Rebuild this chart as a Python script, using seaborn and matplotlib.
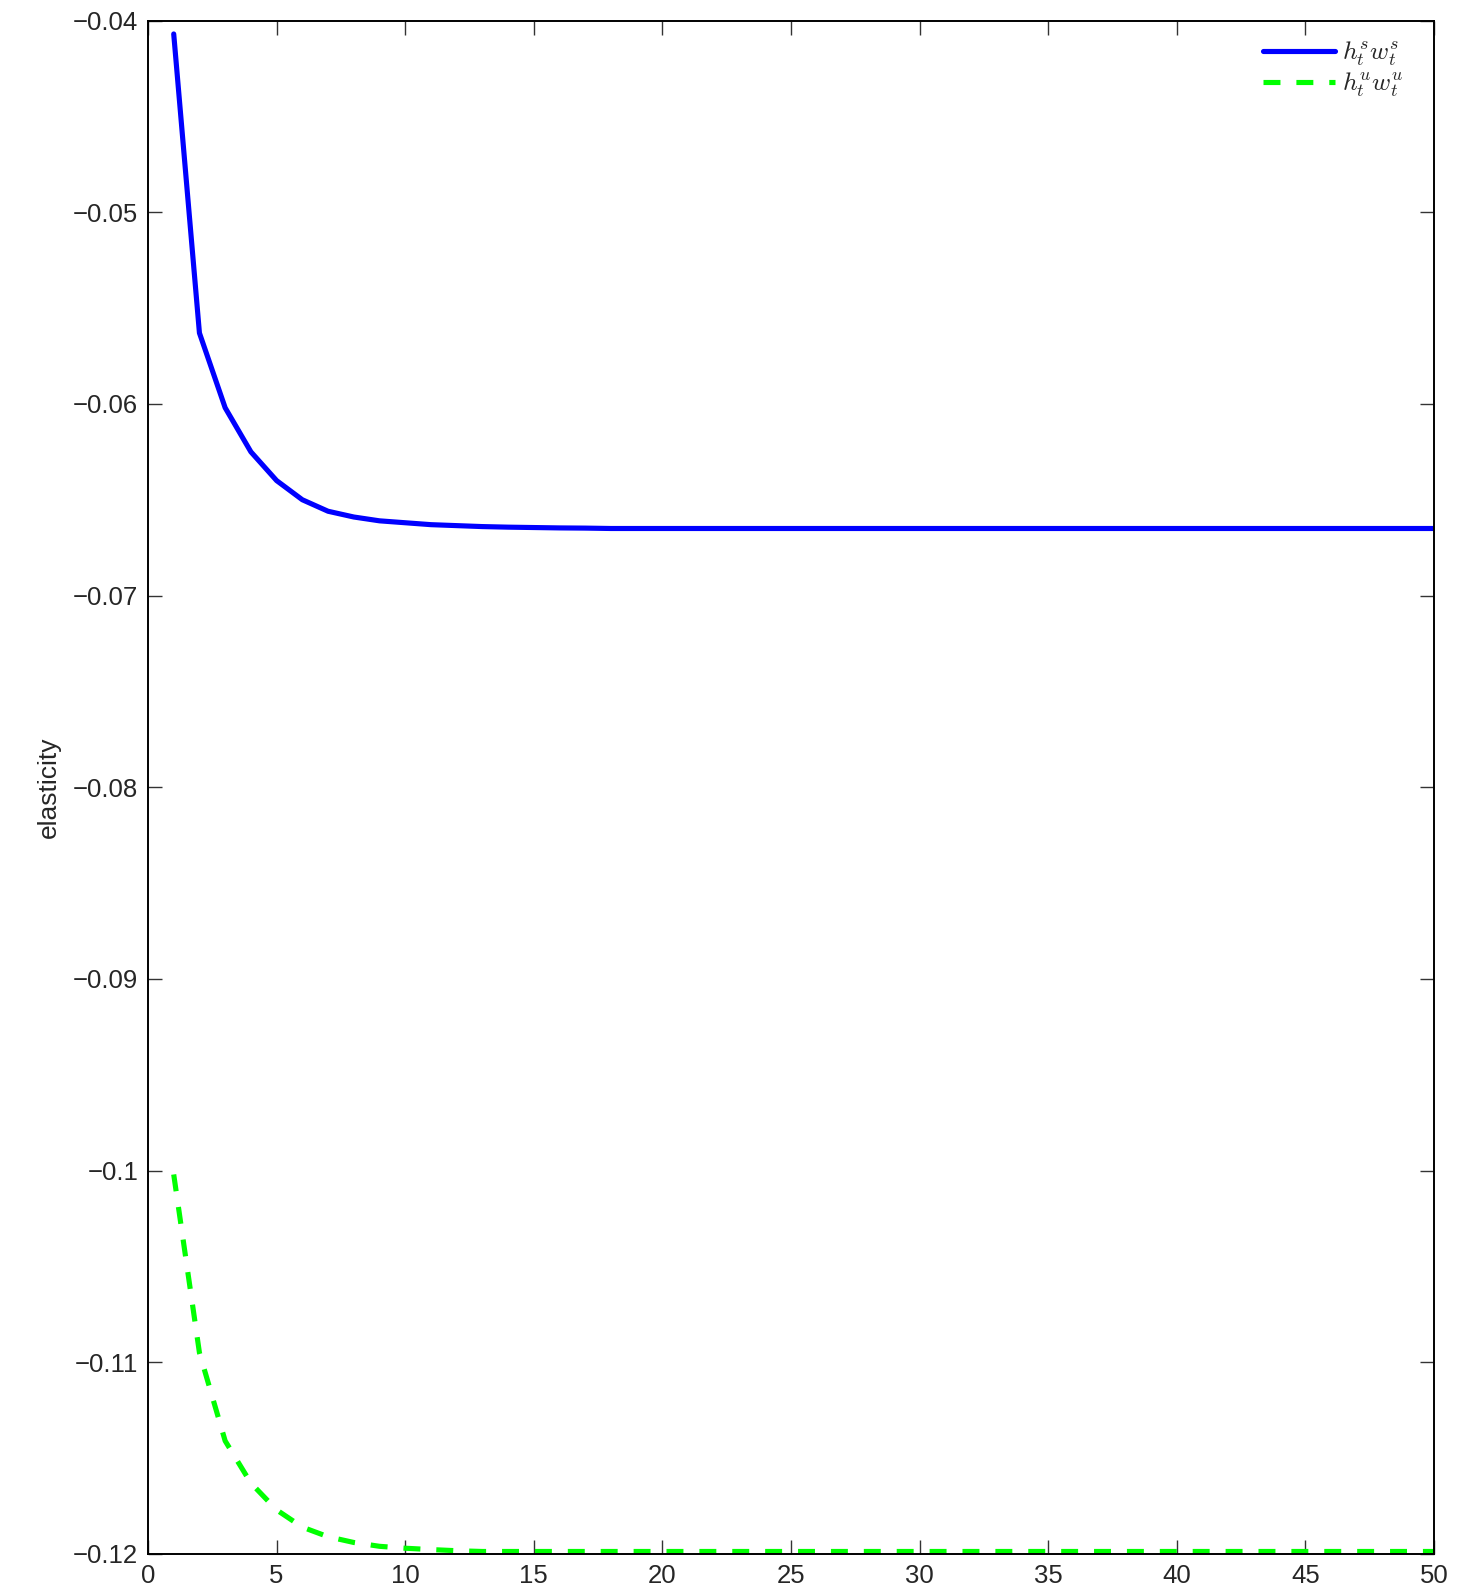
import numpy as np
import pandas as pd
import matplotlib
matplotlib.use("Agg")
import matplotlib.pyplot as plt
import seaborn as sns

periods = list(range(1, 51))
skilled = [-0.0407, -0.0563, -0.0602, -0.0625, -0.0640, -0.0650, -0.0656, -0.0659,
           -0.0661, -0.0662, -0.0663, -0.06635, -0.0664, -0.06643, -0.06645, -0.06647,
           -0.06648] + [-0.0665] * 33
unskilled = [-0.1002, -0.1095, -0.1141, -0.1163, -0.1177, -0.1186, -0.1191, -0.1194,
             -0.1196, -0.1197, -0.11977, -0.11983] + [-0.11987] * 38
series_labels = [r"$h^s_t w^s_t$", r"$h^u_t w^u_t$"]
xticks = list(range(0, 51, 5))
yticks = [-0.12, -0.11, -0.10, -0.09, -0.08, -0.07, -0.06, -0.05, -0.04]
ytick_labels = ["\u22120.12", "\u22120.11", "\u22120.1", "\u22120.09", "\u22120.08",
                "\u22120.07", "\u22120.06", "\u22120.05", "\u22120.04"]

sns.set_style("ticks")
plt.rcParams["font.family"] = ["Liberation Sans", "DejaVu Sans"]
plt.rcParams["mathtext.fontset"] = "cm"

df = pd.DataFrame({
    "t": periods * 2,
    "value": skilled + unskilled,
    "series": [series_labels[0]] * len(periods) + [series_labels[1]] * len(periods),
})

fig = plt.figure(figsize=(14.77, 15.93), dpi=100)
ax = fig.add_axes([0.1002, 0.0245, 0.8707, 0.9626])

sns.lineplot(data=df, x="t", y="value", hue="series", style="series",
             palette={series_labels[0]: "#0000ff", series_labels[1]: "#00ff00"},
             dashes={series_labels[0]: "", series_labels[1]: (3.3, 3.1)},
             linewidth=3.7, ax=ax, legend=True)

ax.set_xlim(0, 50)
ax.set_ylim(-0.12, -0.04)
ax.set_xticks(xticks)
ax.set_xticklabels([str(v) for v in xticks])
ax.set_yticks(yticks)
ax.set_yticklabels(ytick_labels)
ax.set_xlabel("")
ax.set_ylabel("elasticity", fontsize=19, labelpad=9)

ax.tick_params(axis="both", direction="in", length=10, width=1.0, color="#333333",
               labelsize=18.5, top=True, right=True, pad=7)
for s in ax.spines.values():
    s.set_linewidth(1.4)
    s.set_color("black")

leg = ax.legend(loc="upper right", bbox_to_anchor=(0.9915, 1.0), frameon=False,
                fontsize=18.5, handlelength=2.8, borderaxespad=0.35,
                handletextpad=0.3, labelspacing=0.1)

fig.savefig("out.png", dpi=100)
